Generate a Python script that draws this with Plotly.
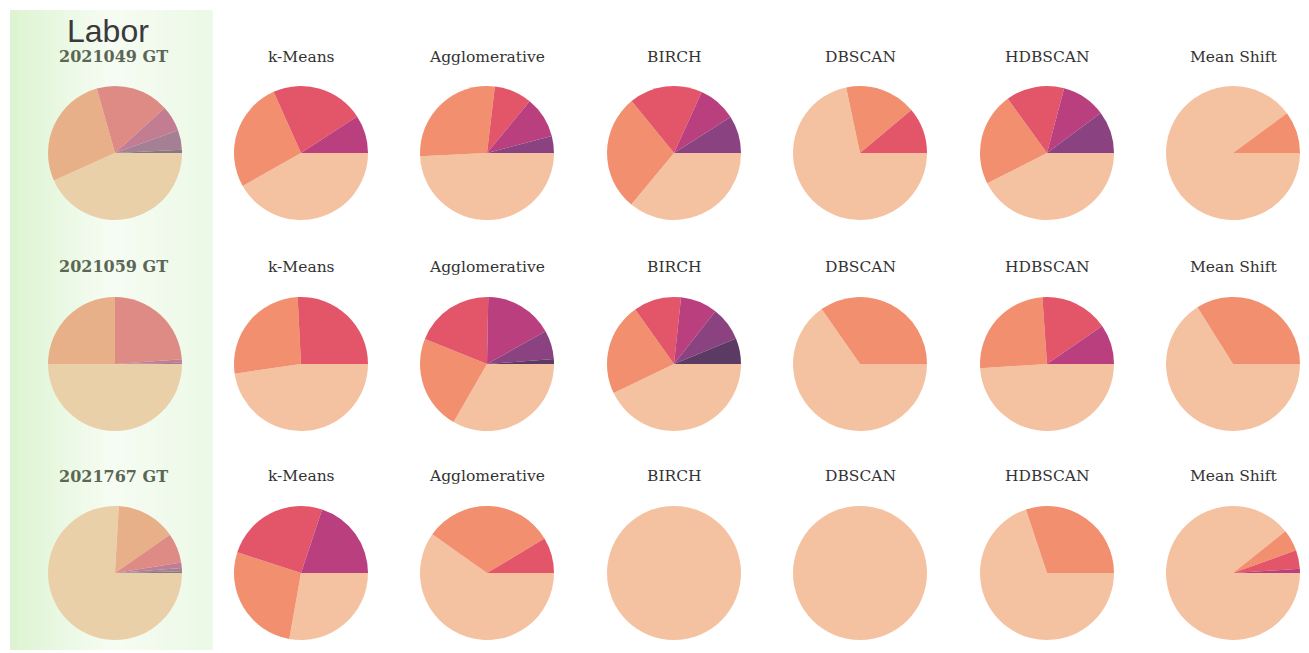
import plotly.graph_objects as go

# cluster-size shares (%) per pie, slices counted counter-clockwise from 3 o'clock
samples = ['2021049', '2021059', '2021767']
methods = ['k-Means', 'Agglomerative', 'BIRCH', 'DBSCAN', 'HDBSCAN', 'Mean Shift']

gt_values = [
    [0.8, 4.7, 6.2, 17.7, 27.3, 43.3],
    [0.3, 0.8, 23.9, 25.0, 50.0],
    [0.4, 0.8, 1.3, 7.2, 14.4, 75.9],
]
kmeans_values = [
    [9.2, 22.5, 26.5, 41.8],
    [25.8, 26.5, 47.7],
    [19.9, 25.1, 27.2, 27.8],
]
agglomerative_values = [
    [4.1, 9.9, 9.1, 27.6, 49.2],
    [1.2, 6.9, 16.6, 19.2, 22.8, 33.3],
    [8.6, 31.6, 59.8],
]
birch_values = [
    [9.0, 9.2, 17.7, 28.1, 36.0],
    [6.2, 8.2, 8.9, 11.5, 22.3, 42.8],
    [100],
]
dbscan_values = [
    [11.1, 17.2, 71.7],
    [34.7, 65.3],
    [100],
]
hdbscan_values = [
    [10.2, 10.7, 14.1, 22.5, 42.6],
    [9.6, 16.5, 24.9, 49.0],
    [30.1, 69.9],
]
meanshift_values = [
    [10.1, 89.9],
    [33.9, 66.1],
    [1.0, 4.5, 5.2, 89.3],
]
method_values = [kmeans_values, agglomerative_values, birch_values,
                 dbscan_values, hdbscan_values, meanshift_values]

palette = ['#5B3A63', '#8A4380', '#B93F7E', '#E3566A', '#F18F6F', '#F5C2A1']

W, H = 1309, 653
col_x = [115, 301, 487, 674, 860, 1047, 1233]
row_y = [153, 364, 573]
title_y = [57, 267, 476]
R = 67


def hex_rgb(h):
    return tuple(int(h[i:i + 2], 16) for i in (1, 3, 5))


def washed(h, k=0.36, tint=(214, 234, 182)):
    c = hex_rgb(h)
    return 'rgb(%d,%d,%d)' % tuple(round(a * (1 - k) + b * k) for a, b in zip(c, tint))


fig = go.Figure()
shapes = []
annotations = []

# green gradient panel behind the ground-truth column
x0, x1, n = 10, 212, 60
for i in range(n):
    xa = x0 + (x1 - x0) * i / n
    xb = x0 + (x1 - x0) * (i + 1) / n
    xm = (xa + xb) / 2
    if xm < 110:
        t = (xm - x0) / 100
        c0, c1 = (220, 244, 209), (246, 252, 243)
    else:
        t = (xm - 110) / 102
        c0, c1 = (246, 252, 243), (236, 249, 230)
    col = tuple(round(a + (b - a) * t) for a, b in zip(c0, c1))
    shapes.append(dict(type='rect', xref='paper', yref='paper', layer='below',
                       x0=xa / W, x1=xb / W + 0.0005, y0=1 - 650 / H, y1=1 - 10 / H,
                       fillcolor='rgb(%d,%d,%d)' % col, line_width=0))


def add_pie(vals, cx, cy, gt=False):
    cols = palette[-len(vals):]
    if gt:
        cols = [washed(c) for c in cols]
    # reversed + clockwise from 3 o'clock == matplotlib's counter-clockwise from 0 deg
    fig.add_trace(go.Pie(
        values=vals[::-1],
        sort=False,
        direction='clockwise',
        rotation=90,
        marker=dict(colors=cols[::-1], line=dict(width=0)),
        textinfo='none',
        hoverinfo='skip',
        showlegend=False,
        domain=dict(x=[(cx - R) / W, (cx + R) / W], y=[1 - (cy + R) / H, 1 - (cy - R) / H]),
    ))


for r in range(3):
    add_pie(gt_values[r], col_x[0], row_y[r], gt=True)
    annotations.append(dict(x=113 / W, y=1 - title_y[r] / H, xref='paper', yref='paper',
                            xanchor='center', yanchor='middle',
                            text='<b>%s GT</b>' % samples[r], showarrow=False,
                            font=dict(family='DejaVu Serif', size=16, color='#5b6654')))
    for m in range(6):
        add_pie(method_values[m][r], col_x[m + 1], row_y[r])
        annotations.append(dict(x=col_x[m + 1] / W, y=1 - title_y[r] / H, xref='paper', yref='paper',
                                xanchor='center', yanchor='middle',
                                text=methods[m], showarrow=False,
                                font=dict(family='DejaVu Serif', size=15.5, color='#333333')))

annotations.append(dict(x=108 / W, y=1 - 31 / H, xref='paper', yref='paper', text='Labor',
                        xanchor='center', yanchor='middle', showarrow=False,
                        font=dict(family='Liberation Sans', size=32, color='#3a3a3a')))

fig.update_layout(
    width=W, height=H,
    margin=dict(l=0, r=0, t=0, b=0),
    paper_bgcolor='white',
    plot_bgcolor='white',
    shapes=shapes,
    annotations=annotations,
)
fig.write_html("out.html", config={'displayModeBar': False},
               post_script="document.body.style.margin='0px';")
